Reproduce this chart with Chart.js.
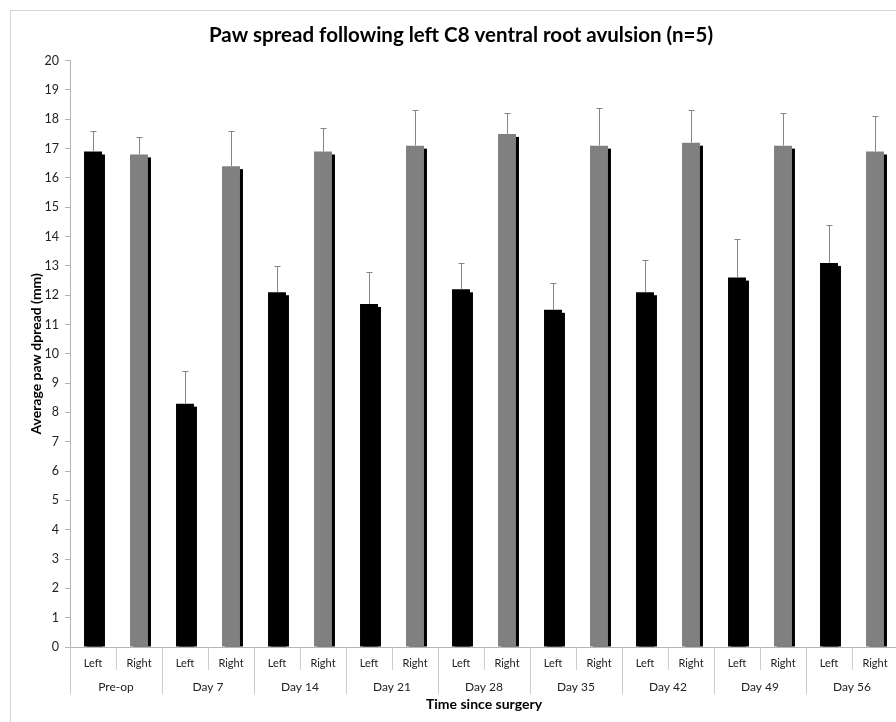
<!DOCTYPE html>
<html lang="en">
<head>
    <meta charset="UTF-8">
    <title>Paw spread following left C8 ventral root avulsion</title>
    <style>
        html, body {
            margin: 0;
            padding: 0;
            background: #fff;
            overflow: hidden;
        }
        #chartBox {
            position: absolute;
            left: 0;
            top: 0;
            width: 922px;
            height: 722px;
        }
    </style>
    <script src="https://cdn.jsdelivr.net/npm/chart.js"></script>
</head>
<body>
    <div id="chartBox">
        <canvas id="pawChart" width="922" height="722"></canvas>
    </div>

    <script>
        // Time points and paw sides
        const groups = ['Pre-op', 'Day 7', 'Day 14', 'Day 21', 'Day 28', 'Day 35', 'Day 42', 'Day 49', 'Day 56'];
        const sides = ['Left', 'Right'];

        // Average paw spread (mm) and error (upper bar only)
        const leftMean = [16.9, 8.3, 12.1, 11.7, 12.2, 11.5, 12.1, 12.6, 13.1];
        const rightMean = [16.8, 16.4, 16.9, 17.1, 17.5, 17.1, 17.2, 17.1, 16.9];
        const leftErr = [0.7, 1.1, 0.9, 1.1, 0.9, 0.9, 1.1, 1.3, 1.3];
        const rightErr = [0.6, 1.2, 0.8, 1.2, 0.7, 1.3, 1.1, 1.1, 1.2];

        // y axis range
        const yMin = 0;
        const yMax = 20;
        const yStep = 1;

        const FONT = 'Lato, "Open Sans", sans-serif';
        const AXIS_GREY = '#b4b4b4';
        const SEP_GREY = '#cccccc';

        // flatten to one bar per (group, side)
        const labels = [];
        const sideOf = [];
        const values = [];
        const errors = [];
        const colors = [];
        groups.forEach((g, i) => {
            labels.push(g + ' ' + sides[0]);
            sideOf.push(sides[0]);
            values.push(leftMean[i]);
            errors.push(leftErr[i]);
            colors.push('#000000');

            labels.push(g + ' ' + sides[1]);
            sideOf.push(sides[1]);
            values.push(rightMean[i]);
            errors.push(rightErr[i]);
            colors.push('#808080');
        });

        // chart border (light grey frame, runs off the right edge)
        const framePlugin = {
            id: 'frame',
            beforeDraw(chart) {
                const ctx = chart.ctx;
                ctx.save();
                ctx.strokeStyle = '#d4d4d4';
                ctx.lineWidth = 1;
                ctx.beginPath();
                ctx.moveTo(10.5, chart.height);
                ctx.lineTo(10.5, 10.5);
                ctx.lineTo(chart.width, 10.5);
                ctx.stroke();
                ctx.restore();
            }
        };

        // Excel style drop shadow on the right of each bar
        const shadowPlugin = {
            id: 'barShadow',
            beforeDatasetsDraw(chart) {
                const ctx = chart.ctx;
                const meta = chart.getDatasetMeta(0);
                ctx.save();
                ctx.fillStyle = '#000';
                meta.data.forEach(bar => {
                    const { x, y, base, width } = bar.getProps(['x', 'y', 'base', 'width'], true);
                    ctx.fillRect(x - width / 2 + 3, y + 3, width, base - y - 3);
                });
                ctx.restore();
            }
        };

        // upper error bars
        const errorBarPlugin = {
            id: 'errorBars',
            afterDatasetsDraw(chart) {
                const ctx = chart.ctx;
                const yScale = chart.scales.y;
                const meta = chart.getDatasetMeta(0);
                ctx.save();
                ctx.strokeStyle = '#858585';
                ctx.lineWidth = 1;
                meta.data.forEach((bar, i) => {
                    const x = Math.round(bar.x) + 0.5;
                    const top = Math.round(yScale.getPixelForValue(values[i] + errors[i])) + 0.5;
                    ctx.beginPath();
                    ctx.moveTo(x, bar.y);
                    ctx.lineTo(x, top);
                    ctx.moveTo(x - 3, top);
                    ctx.lineTo(x + 3, top);
                    ctx.stroke();
                });
                ctx.restore();
            }
        };

        // two-level category axis: Left/Right, then time point
        const groupAxisPlugin = {
            id: 'groupAxis',
            afterDraw(chart) {
                const ctx = chart.ctx;
                const xScale = chart.scales.x;
                const bottom = chart.chartArea.bottom;
                const slot = xScale.getPixelForValue(1) - xScale.getPixelForValue(0);
                ctx.save();
                ctx.strokeStyle = SEP_GREY;
                ctx.lineWidth = 1;
                ctx.fillStyle = '#222';
                ctx.textAlign = 'center';
                ctx.textBaseline = 'middle';

                labels.forEach((l, i) => {
                    const cx = xScale.getPixelForValue(i);
                    const edge = Math.round(cx - slot / 2) + 0.5;
                    const depth = i % 2 === 0 ? 47 : 23;
                    ctx.beginPath();
                    ctx.moveTo(edge, bottom);
                    ctx.lineTo(edge, bottom + depth);
                    ctx.stroke();

                    ctx.font = '11px ' + FONT;
                    ctx.fillText(sideOf[i], cx, bottom + 16);
                });
                const lastEdge = Math.round(xScale.getPixelForValue(labels.length - 1) + slot / 2) + 0.5;
                ctx.beginPath();
                ctx.moveTo(lastEdge, bottom);
                ctx.lineTo(lastEdge, bottom + 47);
                ctx.stroke();

                ctx.font = '12px ' + FONT;
                groups.forEach((g, i) => {
                    const cx = (xScale.getPixelForValue(i * 2) + xScale.getPixelForValue(i * 2 + 1)) / 2;
                    ctx.fillText(g, cx, bottom + 40);
                });
                ctx.restore();
            }
        };

        const ctx = document.getElementById('pawChart').getContext('2d');
        new Chart(ctx, {
            type: 'bar',
            data: {
                labels: labels,
                datasets: [{
                    data: values,
                    backgroundColor: colors,
                    borderWidth: 0,
                    barPercentage: 1,
                    categoryPercentage: 0.39
                }]
            },
            options: {
                responsive: false,
                animation: false,
                layout: {
                    padding: { left: 24, right: 24, top: 0, bottom: 0 }
                },
                plugins: {
                    legend: { display: false },
                    tooltip: { enabled: false },
                    title: {
                        display: true,
                        text: 'Paw spread following left C8 ventral root avulsion (n=5)',
                        color: '#000',
                        font: { family: FONT, size: 20.5, weight: 'bold' },
                        padding: { top: 23, bottom: 13 }
                    }
                },
                scales: {
                    x: {
                        ticks: { display: false },
                        grid: { display: false },
                        border: { display: true, color: AXIS_GREY },
                        title: {
                            display: true,
                            text: 'Time since surgery',
                            color: '#000',
                            font: { family: FONT, size: 14, weight: 'bold' },
                            padding: { top: 0, bottom: 9 }
                        },
                        afterFit(scale) {
                            scale.height = 75;
                        }
                    },
                    y: {
                        min: yMin,
                        max: yMax,
                        ticks: {
                            stepSize: yStep,
                            padding: 6,
                            color: '#222',
                            font: { family: FONT, size: 12.5 }
                        },
                        grid: {
                            display: true,
                            drawOnChartArea: false,
                            drawTicks: true,
                            tickLength: 5,
                            color: AXIS_GREY
                        },
                        border: { display: true, color: AXIS_GREY },
                        title: {
                            display: true,
                            text: 'Average paw dpread (mm)',
                            color: '#000',
                            font: { family: FONT, size: 14, weight: 'bold' },
                            padding: { top: 4, bottom: 0 }
                        },
                        afterFit(scale) {
                            scale.width = 46;
                        }
                    }
                }
            },
            plugins: [framePlugin, shadowPlugin, errorBarPlugin, groupAxisPlugin]
        });
    </script>
</body>
</html>
